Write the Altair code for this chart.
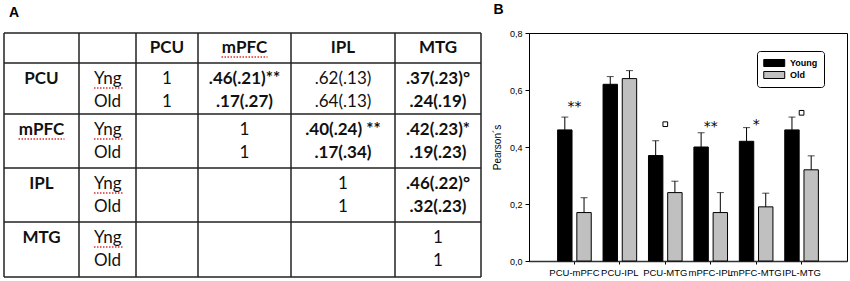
import altair as alt
import pandas as pd

# ---------------- Panel A (table) data ----------------
col_heads = ["PCU", "mPFC", "IPL", "MTG"]
row_heads = ["PCU", "mPFC", "IPL", "MTG"]
grp_short = ["Yng", "Old"]
cells_yng = [
    ["1", ".46(.21)**", ".62(.13)", ".37(.23)°"],
    ["", "1", ".40(.24) **", ".42(.23)*"],
    ["", "", "1", ".46(.22)°"],
    ["", "", "", "1"],
]
cells_old = [
    ["1", ".17(.27)", ".64(.13)", ".24(.19)"],
    ["", "1", ".17(.34)", ".19(.23)"],
    ["", "", "1", ".32(.23)"],
    ["", "", "", "1"],
]
plain_cells = [(0, 2)]  # PCU-IPL values are not bold

# ---------------- Panel B (bars) data ----------------
pairs = ["PCU-mPFC", "PCU-IPL", "PCU-MTG", "mPFC-IPL", "mPFC-MTG", "IPL-MTG"]
young = [0.46, 0.62, 0.37, 0.40, 0.42, 0.46]
young_err = [0.045, 0.027, 0.052, 0.050, 0.048, 0.045]
old = [0.17, 0.64, 0.24, 0.17, 0.19, 0.32]
old_err = [0.052, 0.028, 0.040, 0.070, 0.048, 0.049]
sig = ["**", "", "o", "**", "*", "o"]
sig_y = [0.555, 0.0, 0.48, 0.485, 0.49, 0.52]

# ---------------- table layout (pixels) ----------------
col_edges = [3, 78, 135, 197, 290, 394, 480]
row_edges = [0, 30, 81, 135, 189, 244]
TW, TH = 480, 246
yng_dy, old_dy = 16, 39

txt = []
for j, h in enumerate(col_heads):
    txt.append(dict(x=(col_edges[j + 2] + col_edges[j + 3]) / 2,
                    y=(row_edges[0] + row_edges[1]) / 2, t=h, k="bc"))
for i, r in enumerate(row_heads):
    top = row_edges[i + 1]
    yy, yo = top + yng_dy, top + old_dy
    txt.append(dict(x=(col_edges[0] + col_edges[1]) / 2, y=yy, t=r, k="bc"))
    txt.append(dict(x=col_edges[1] + 15, y=yy, t=grp_short[0], k="nl"))
    txt.append(dict(x=col_edges[1] + 15, y=yo, t=grp_short[1], k="nl"))
    for j in range(4):
        cx = (col_edges[j + 2] + col_edges[j + 3]) / 2
        for val, yv in ((cells_yng[i][j], yy), (cells_old[i][j], yo)):
            if val:
                bold = "(" in val and (i, j) not in plain_cells
                txt.append(dict(x=cx, y=yv, t=val, k="bc" if bold else "nc"))
df_txt = pd.DataFrame(txt)

df_h = pd.DataFrame({"y": row_edges, "x": col_edges[0], "x2": col_edges[-1]})
df_v = pd.DataFrame({"x": col_edges, "y": row_edges[0], "y2": row_edges[-1]})

# spell-check squiggles under "Yng" and "mPFC"
sq = []
for i in range(4):
    top = row_edges[i + 1]
    sq.append(dict(x=col_edges[1] + 15, x2=col_edges[1] + 45, y=top + yng_dy + 9))
c0 = (col_edges[0] + col_edges[1]) / 2
sq.append(dict(x=c0 - 23, x2=c0 + 23, y=row_edges[2] + yng_dy + 9))
c1 = (col_edges[3] + col_edges[4]) / 2
sq.append(dict(x=c1 - 23, x2=c1 + 23, y=(row_edges[0] + row_edges[1]) / 2 + 9))
df_sq = pd.DataFrame(sq)

xs = alt.Scale(domain=[0, TW], nice=False, zero=False)
ys = alt.Scale(domain=[0, TH], nice=False, zero=False, reverse=True)

hl = alt.Chart(df_h).mark_rule(color="#222222", strokeWidth=1.5).encode(
    x=alt.X("x:Q", scale=xs, axis=None), x2="x2:Q", y=alt.Y("y:Q", scale=ys, axis=None))
vl = alt.Chart(df_v).mark_rule(color="#222222", strokeWidth=1.5).encode(
    x=alt.X("x:Q", scale=xs, axis=None), y=alt.Y("y:Q", scale=ys, axis=None), y2="y2:Q")
squig = alt.Chart(df_sq).mark_rule(color="#e03030", strokeWidth=1.3, strokeDash=[1.5, 1.5]).encode(
    x=alt.X("x:Q", scale=xs, axis=None), x2="x2:Q", y=alt.Y("y:Q", scale=ys, axis=None))


def tlayer(kind, weight, align):
    return alt.Chart(df_txt).transform_filter(f"datum.k == '{kind}'").mark_text(
        font="Lato", fontSize=17, fontWeight=weight, align=align, baseline="middle", color="#111111"
    ).encode(x=alt.X("x:Q", scale=xs, axis=None), y=alt.Y("y:Q", scale=ys, axis=None), text="t:N")


tableA = alt.layer(
    hl, vl, squig,
    tlayer("bc", "bold", "center"),
    tlayer("nc", "normal", "center"),
    tlayer("nl", "normal", "left"),
).properties(
    width=TW, height=TH,
    view=alt.ViewBackground(stroke="transparent"),
    title=alt.TitleParams("A", anchor="start", font="Liberation Sans", fontSize=14,
                          fontWeight="bold", dx=8, offset=12, color="black"),
)

# ---------------- Panel B chart ----------------
dfB = pd.DataFrame({
    "pair": pairs * 2,
    "group": ["Young"] * 6 + ["Old"] * 6,
    "value": young + old,
    "err": young_err + old_err,
})
dfB["upper"] = dfB["value"] + dfB["err"]

X = alt.X("pair:N", sort=pairs, title=None,
          scale=alt.Scale(paddingInner=0.26, paddingOuter=0.63),
          axis=alt.Axis(labelAngle=0, labelFont="Liberation Sans", labelFontSize=9.5,
                        labelColor="black", tickSize=3, tickColor="black", domainColor="#333333",
                        domainWidth=1.5, labelPadding=3, labelOverlap=False, labelLimit=0))
XO = alt.XOffset("group:N", sort=["Young", "Old"], scale=alt.Scale(paddingInner=0.25, paddingOuter=0))
Yscale = alt.Scale(domain=[0, 0.8], nice=False)
Y = alt.Y("value:Q", scale=Yscale, title="Pearson´s",
          axis=alt.Axis(values=[0, 0.2, 0.4, 0.6, 0.8], grid=False,
                        labelExpr="replace(format(datum.value, '.1f'), '.', ',')",
                        labelFont="Liberation Sans", labelFontSize=9, labelColor="black",
                        tickSize=4, tickColor="black", domainColor="black", labelPadding=3,
                        titleFont="Liberation Sans", titleFontSize=10, titleFontWeight="normal",
                        titleColor="black", titlePadding=7))

legend = alt.Legend(title=None, orient="none", legendX=756, legendY=18, direction="vertical",
                    symbolType="M-1,-0.67L3,-0.67L3,0.67L-1,0.67Z", symbolSize=110,
                    symbolStrokeColor="black", symbolStrokeWidth=1,
                    labelFont="Liberation Sans", labelFontSize=9, labelFontWeight="bold",
                    labelColor="black", strokeColor="black", fillColor="white",
                    padding=6, cornerRadius=3, rowPadding=0, labelOffset=15)

bars = alt.Chart(dfB).mark_bar(stroke="black", strokeWidth=1).encode(
    x=X, xOffset=XO, y=Y,
    color=alt.Color("group:N", sort=["Young", "Old"],
                    scale=alt.Scale(domain=["Young", "Old"], range=["#000000", "#c0c0c0"]),
                    legend=legend))
errs = alt.Chart(dfB).mark_rule(color="black", strokeWidth=1).encode(
    x=X, xOffset=XO, y=alt.Y("value:Q", scale=Yscale), y2="upper:Q")
caps = alt.Chart(dfB).mark_tick(color="black", size=7, thickness=1).encode(
    x=X, xOffset=XO, y=alt.Y("upper:Q", scale=Yscale))

dfS = pd.DataFrame({"pair": pairs, "sig": sig, "sy": sig_y})
stars = alt.Chart(dfS).transform_filter("indexof(datum.sig, '*') >= 0").mark_text(
    font="DejaVu Sans", fontSize=14, baseline="middle", dy=4, color="black", fill="black").encode(
    x=X, y=alt.Y("sy:Q", scale=Yscale), text="sig:N")
boxes = alt.Chart(dfS).transform_filter("datum.sig == 'o'").mark_point(
    shape="square", filled=False, size=22, color="black", strokeWidth=1, opacity=1).encode(
    x=X, y=alt.Y("sy:Q", scale=Yscale))

chartB = alt.layer(bars, errs, caps, stars, boxes).properties(
    width=318, height=228,
    title=alt.TitleParams("B", anchor="start", font="Liberation Sans", fontSize=14,
                          fontWeight="bold", dx=1, offset=12, color="black"),
)

chart = alt.hconcat(tableA, chartB, spacing=48, bounds="flush").properties(
    padding={"left": 0, "top": 2, "right": 0, "bottom": 0}
).configure_view(stroke="black", strokeWidth=1)

chart.save("out.html", embed_options={"renderer": "svg", "actions": False})
